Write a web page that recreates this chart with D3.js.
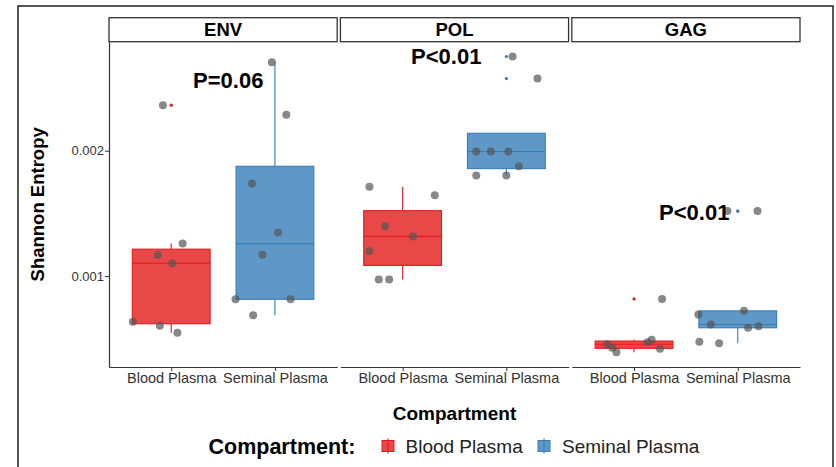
<!DOCTYPE html>
<html>
<head>
<meta charset="utf-8">
<script src="https://cdn.jsdelivr.net/npm/d3@7"></script>
<style>
  body { margin: 0; background: #fff; }
  svg { font-family: "Liberation Sans", Arial, sans-serif; }
</style>
</head>
<body>
<div id="chart"></div>
<script>
// facets, groups and colours
const facets = ["ENV", "POL", "GAG"];
const compartments = ["Blood Plasma", "Seminal Plasma"];
const fillColors = ["#E41A1C", "#377EB8"];

// Shannon entropy per facet / compartment
const envBlood    = [0.002364, 0.001261, 0.001169, 0.001103, 0.000636, 0.000604, 0.000549];
const envSeminal  = [0.002707, 0.002287, 0.001739, 0.001348, 0.001171, 0.000815, 0.000815, 0.000688];
const polBlood    = [0.001713, 0.001646, 0.001398, 0.001317, 0.001198, 0.000973, 0.000973];
const polSeminal  = [0.002752, 0.002576, 0.001994, 0.001994, 0.001994, 0.001876, 0.001802, 0.001802];
const gagBlood    = [0.000818, 0.000492, 0.000472, 0.000456, 0.000428, 0.000420, 0.000393];
const gagSeminal  = [0.001519, 0.001519, 0.000723, 0.000694, 0.000614, 0.000601, 0.000588, 0.000477, 0.000464];

// horizontal jitter of each point, in category steps
const envBloodJit   = [-0.08, 0.11, -0.13, 0.01, -0.37, -0.11, 0.06];
const envSeminalJit = [-0.03, 0.11, -0.22, 0.03, -0.12, -0.38, 0.15, -0.21];
const polBloodJit   = [-0.32, 0.31, -0.17, 0.10, -0.32, -0.23, -0.13];
const polSeminalJit = [0.06, 0.30, -0.29, -0.15, 0.02, 0.12, -0.29, 0.00];
const gagBloodJit   = [0.27, 0.17, 0.13, -0.26, -0.21, 0.25, -0.17];
const gagSeminalJit = [-0.10, 0.19, 0.06, -0.38, -0.26, 0.20, 0.10, -0.37, -0.18];

// p-value labels: text, x (category position 1..2), y (entropy)
const pLabels = ["P=0.06", "P<0.01", "P<0.01"];
const pLabelX = [1.55, 1.42, 1.58];
const pLabelY = [0.002562, 0.002755, 0.001507];

const yTicks = [0.001, 0.002];

const valuesByFacet = {
  ENV: [envBlood, envSeminal],
  POL: [polBlood, polSeminal],
  GAG: [gagBlood, gagSeminal]
};
const jitterByFacet = {
  ENV: [envBloodJit, envSeminalJit],
  POL: [polBloodJit, polSeminalJit],
  GAG: [gagBloodJit, gagSeminalJit]
};

var width = 836, height = 467;
var panelLeft = 109, panelRight = 800, panelTop = 41.7, panelBottom = 367;
var stripTop = 17.7;

var svg = d3.select("#chart").append("svg")
  .attr("width", width)
  .attr("height", height);

// outer border
svg.append("rect")
  .attr("x", 18).attr("y", 6)
  .attr("width", 815).attr("height", 480)
  .attr("fill", "none")
  .attr("stroke", "#222")
  .attr("stroke-width", 1.5);

// y scale: data range plus 5% on each side (like ggplot)
var allVals = [].concat(...facets.map(f => valuesByFacet[f][0].concat(valuesByFacet[f][1])));
var ext = d3.extent(allVals);
var pad = (ext[1] - ext[0]) * 0.05;
var y = d3.scaleLinear()
  .domain([ext[0] - pad, ext[1] + pad])
  .range([panelBottom, panelTop]);

var fx = d3.scaleBand()
  .domain(facets)
  .range([panelLeft, panelRight])
  .paddingInner(0.014);

function boxStats(vals) {
  var s = vals.slice().sort(d3.ascending);
  var q1 = d3.quantile(s, 0.25), med = d3.quantile(s, 0.5), q3 = d3.quantile(s, 0.75);
  var iqr = q3 - q1;
  var inside = s.filter(v => v >= q1 - 1.5 * iqr && v <= q3 + 1.5 * iqr);
  return {
    q1: q1, med: med, q3: q3,
    lo: Math.min(d3.min(inside), q1),
    hi: Math.max(d3.max(inside), q3),
    outliers: s.filter(v => v < q1 - 1.5 * iqr || v > q3 + 1.5 * iqr)
  };
}

// y axis only on the first panel
var yAxis = svg.append("g")
  .attr("transform", "translate(" + panelLeft + ",0)")
  .call(d3.axisLeft(y).tickValues(yTicks).tickSize(4).tickSizeOuter(0).tickFormat(d3.format(".3f")));
yAxis.select(".domain").attr("stroke", "#333").attr("stroke-width", 1.2);
yAxis.selectAll(".tick line").attr("stroke", "#333");
yAxis.selectAll(".tick text")
  .attr("fill", "#333")
  .style("font-size", "13px")
  .attr("x", -5);

svg.append("text")
  .attr("transform", "translate(43.5," + ((panelTop + panelBottom) / 2) + ") rotate(-90)")
  .attr("text-anchor", "middle")
  .style("font-weight", "bold")
  .style("font-size", "18.5px")
  .attr("fill", "#000")
  .text("Shannon Entropy");

facets.forEach(function(f, fi) {
  var x0 = fx(f), w = fx.bandwidth();
  var x = d3.scalePoint().domain(compartments).range([0, w]).padding(0.6);
  var step = x.step();
  var boxW = step * 0.75;

  var g = svg.append("g").attr("transform", "translate(" + x0 + ",0)");

  // strip
  g.append("rect")
    .attr("x", 0).attr("y", stripTop)
    .attr("width", w).attr("height", panelTop - stripTop)
    .attr("fill", "#fff")
    .attr("stroke", "#333")
    .attr("stroke-width", 1.3);
  g.append("text")
    .attr("x", w / 2).attr("y", (stripTop + panelTop) / 2)
    .attr("dy", "0.35em")
    .attr("text-anchor", "middle")
    .style("font-weight", "bold")
    .style("font-size", "18.5px")
    .text(f);

  // x axis
  var xa = g.append("g")
    .attr("transform", "translate(0," + panelBottom + ")")
    .call(d3.axisBottom(x).tickSize(4).tickSizeOuter(0));
  xa.select(".domain").attr("stroke", "#333").attr("stroke-width", 1.2);
  xa.selectAll(".tick line").attr("stroke", "#333");
  xa.selectAll(".tick text")
    .attr("fill", "#333")
    .style("font-size", "14.5px")
    .attr("y", 6);

  // boxes
  compartments.forEach(function(c, ci) {
    var st = boxStats(valuesByFacet[f][ci]);
    var cx = x(c), col = fillColors[ci];
    g.append("line")
      .attr("x1", cx).attr("x2", cx)
      .attr("y1", y(st.q3)).attr("y2", y(st.hi))
      .attr("stroke", col).attr("stroke-width", 1.1);
    g.append("line")
      .attr("x1", cx).attr("x2", cx)
      .attr("y1", y(st.q1)).attr("y2", y(st.lo))
      .attr("stroke", col).attr("stroke-width", 1.1);
    g.append("rect")
      .attr("x", cx - boxW / 2).attr("y", y(st.q3))
      .attr("width", boxW).attr("height", y(st.q1) - y(st.q3))
      .attr("fill", col).attr("fill-opacity", 0.8)
      .attr("stroke", col).attr("stroke-width", 1.1);
    g.append("line")
      .attr("x1", cx - boxW / 2).attr("x2", cx + boxW / 2)
      .attr("y1", y(st.med)).attr("y2", y(st.med))
      .attr("stroke", col).attr("stroke-width", 1.1);
    g.selectAll(".out" + ci)
      .data(st.outliers)
      .enter().append("circle")
      .attr("cx", cx).attr("cy", d => y(d))
      .attr("r", 1.6)
      .attr("fill", col);
  });

  // jittered points
  compartments.forEach(function(c, ci) {
    var vals = valuesByFacet[f][ci], jit = jitterByFacet[f][ci];
    g.selectAll(".pt" + ci)
      .data(vals)
      .enter().append("circle")
      .attr("cx", (d, i) => x(c) + jit[i] * step)
      .attr("cy", d => y(d))
      .attr("r", 4)
      .attr("fill", "#555")
      .attr("fill-opacity", 0.7);
  });

  // p-value label
  g.append("text")
    .attr("x", x(compartments[0]) + (pLabelX[fi] - 1) * step)
    .attr("y", y(pLabelY[fi]))
    .attr("dy", "0.36em")
    .attr("text-anchor", "middle")
    .style("font-weight", "bold")
    .style("font-size", "22px")
    .text(pLabels[fi]);
});

// x axis title
svg.append("text")
  .attr("x", (panelLeft + panelRight) / 2)
  .attr("y", 420)
  .attr("text-anchor", "middle")
  .style("font-weight", "bold")
  .style("font-size", "19px")
  .text("Compartment");

// legend
var leg = svg.append("g");
leg.append("text")
  .attr("x", 208.5).attr("y", 454)
  .style("font-weight", "bold")
  .style("font-size", "21.5px")
  .text("Compartment:");
var keyX = [382, 538], labX = [405.5, 562];
compartments.forEach(function(c, ci) {
  leg.append("line")
    .attr("x1", keyX[ci] + 6).attr("x2", keyX[ci] + 6)
    .attr("y1", 438.5).attr("y2", 453.5)
    .attr("stroke", fillColors[ci]).attr("stroke-width", 1.1);
  leg.append("rect")
    .attr("x", keyX[ci]).attr("y", 440.5)
    .attr("width", 12).attr("height", 11)
    .attr("fill", fillColors[ci]).attr("fill-opacity", 0.8)
    .attr("stroke", fillColors[ci]).attr("stroke-width", 1);
  leg.append("text")
    .attr("x", labX[ci]).attr("y", 453)
    .style("font-size", "19px")
    .attr("fill", "#222")
    .text(c);
});
</script>
</body>
</html>
